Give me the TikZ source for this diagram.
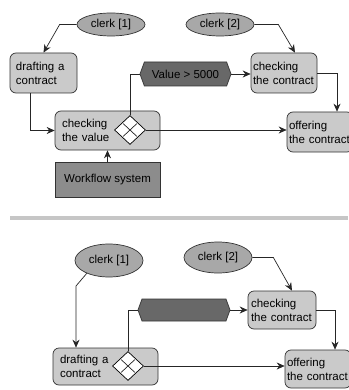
\documentclass[tikz,border=0pt]{standalone}
\usepackage{fontspec}
\setmainfont{Liberation Sans}
\usetikzlibrary{shapes.geometric,shapes.symbols,arrows.meta}

\definecolor{boxgray}{HTML}{CACACA}
\definecolor{rolegray}{HTML}{A8A8A8}
\definecolor{darkgray}{HTML}{686868}
\definecolor{sysgray}{HTML}{8C8C8C}
\definecolor{sepgray}{HTML}{C6C6C6}

\begin{document}
\begin{tikzpicture}[x=1pt,y=-1pt,
		every node/.style={font=\fontsize{11.5}{14}\selectfont},
		task/.style={draw=black!80,fill=boxgray,rounded corners=6pt,inner sep=0pt,align=left,line width=0.7pt},
		role/.style={draw=black!80,fill=rolegray,ellipse,inner sep=0pt,minimum width=68pt,line width=0.7pt},
		rule/.style={draw=black!80,fill=darkgray,signal,signal to=west and east,signal pointer angle=140,inner sep=0pt,line width=0.7pt},
		gate/.style={draw=black,fill=white,diamond,inner sep=0pt,minimum width=31pt,minimum height=29pt,line width=0.7pt},
		system/.style={draw=black!80,fill=sysgray,inner sep=0pt,minimum width=105pt,minimum height=35pt,line width=0.7pt},
		flow/.style={draw=black!85,line width=0.7pt},
		arr/.style={flow,-{Stealth[length=8pt,width=7pt]}}]
	\useasboundingbox (0,0) rectangle (348,390);
	\pgfmathsetmacro{\sepy}{218}

	% upper diagram
	\node[role,minimum height=23pt] (clerkA) at (111,24.5) {clerk [1]};
	\node[role,minimum height=23pt] (clerkB) at (220,24.5) {clerk [2]};
	\node[task,minimum width=67pt,minimum height=40pt,text width=55pt] (draftA) at (43.5,73) {drafting a\\contract};
	\node[task,minimum width=105pt,minimum height=39pt,text width=91pt] (checkval) at (107.5,130.5) {checking\\the value};
	\node[gate] (gwA) at (130,130) {};
	\draw[flow,shorten <=1.5pt,shorten >=1.5pt] (gwA.north west) -- (gwA.south east);
	\draw[flow,shorten <=1.5pt,shorten >=1.5pt] (gwA.north east) -- (gwA.south west);
	\node[rule,minimum width=91pt,minimum height=24pt] (hexA) at (185.5,74) {Value > 5000};
	\node[task,minimum width=66pt,minimum height=40pt,text width=62pt] (checkA) at (284,73) {checking\\the contract};
	\node[task,minimum width=66pt,minimum height=40pt,text width=62pt] (offerA) at (320,132) {offering\\the contract};
	\node[system] (wf) at (107.5,179.5) {Workflow system};

	\draw[arr] (clerkA.west) -- ++(-17,0) -- (draftA.north);
	\draw[arr] (clerkB.east) -- ++(24,0) -- ([xshift=11pt]checkA.north);
	\draw[arr] ([xshift=-13.5pt]draftA.south) |- (checkval.west);
	\draw[arr] (wf.north) -- (checkval.south);
	\draw[flow] (gwA.north) |- (hexA.west);
	\draw[arr] (hexA.east) -- (hexA.east -| checkA.west);
	\draw[arr] (checkA.east) -| ([xshift=17pt]offerA.north);
	\draw[arr] (gwA.east) -- (gwA.east -| offerA.west);

	% separator
	\draw[sepgray,line width=4pt] (10,\sepy) -- (348,\sepy);

	% lower diagram
	\node[role,minimum height=33pt] (clerkC) at (109,260.5) {clerk [1]};
	\node[role,minimum height=31pt] (clerkD) at (218,257.5) {clerk [2]};
	\node[rule,minimum width=92pt,minimum height=22pt] (hexB) at (184,310) {};
	\node[task,minimum width=68pt,minimum height=38pt,text width=62pt] (checkB) at (282,310) {checking\\the contract};
	\node[task,minimum width=105pt,minimum height=37pt,text width=91pt] (draftB) at (105.5,366.5) {drafting a\\contract};
	\node[gate] (gwB) at (128,366) {};
	\draw[flow,shorten <=1.5pt,shorten >=1.5pt] (gwB.north west) -- (gwB.south east);
	\draw[flow,shorten <=1.5pt,shorten >=1.5pt] (gwB.north east) -- (gwB.south west);
	\node[task,minimum width=66pt,minimum height=38pt,text width=62pt] (offerB) at (318,369) {offering\\the contract};

	\draw[arr] (clerkC.-150) -- (76,286) -- ([xshift=-29.5pt]draftB.north);
	\draw[arr] (clerkD.east) -- ++(21,0) -- ([xshift=10pt]checkB.north);
	\draw[flow] (gwB.north) |- (hexB.west);
	\draw[arr] (hexB.east) -- (hexB.east -| checkB.west);
	\draw[arr] (checkB.east) -| ([xshift=17pt]offerB.north);
	\draw[arr] (gwB.east) -- (gwB.east -| offerB.west);
\end{tikzpicture}
\end{document}
